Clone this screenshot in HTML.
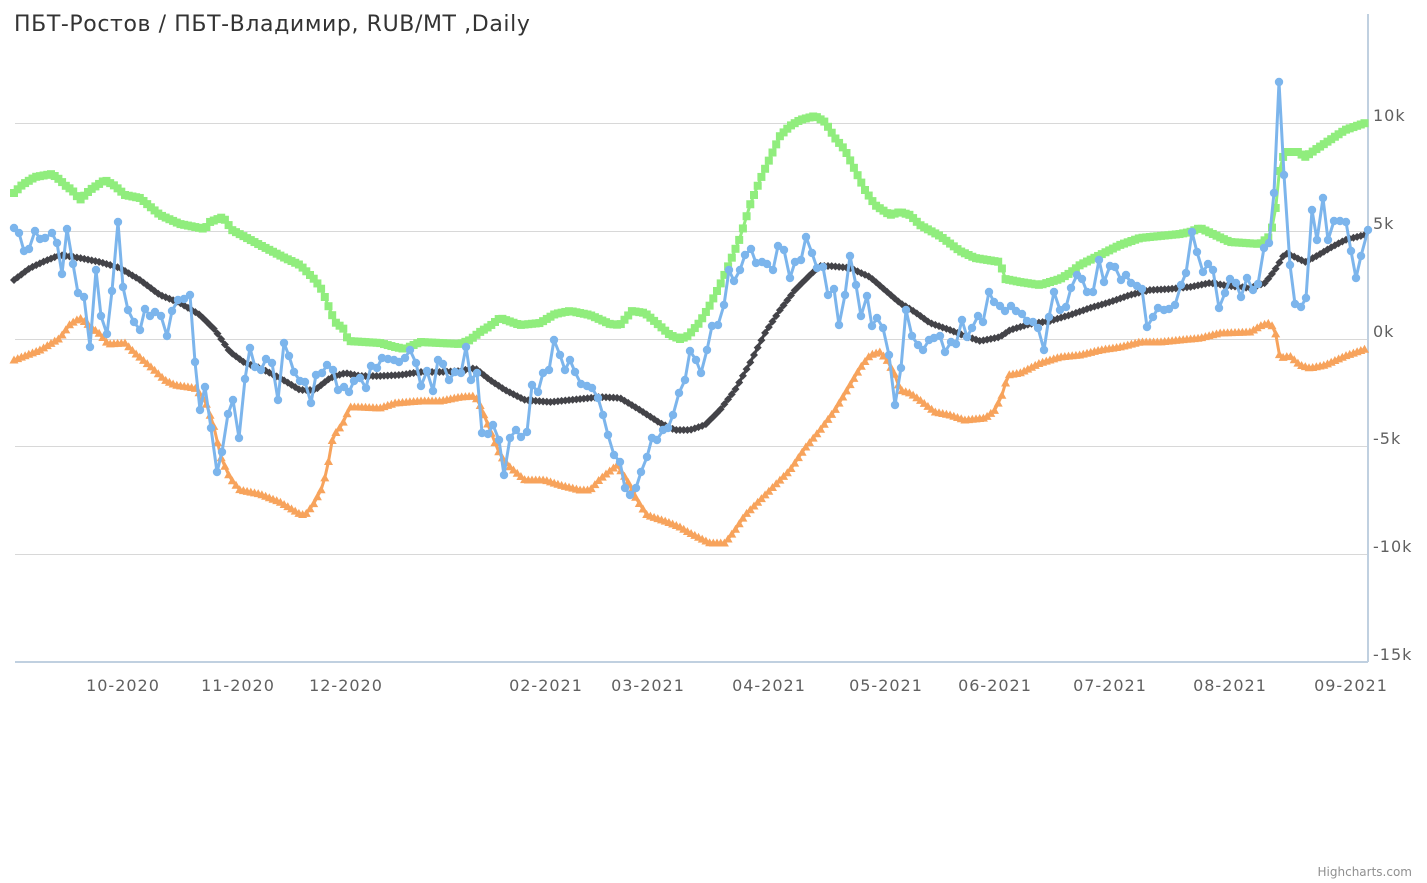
<!DOCTYPE html>
<html><head><meta charset="utf-8"><style>
body{margin:0;background:#fff;}
svg{display:block;font-family:"DejaVu Sans","Liberation Sans",sans-serif;}
</style></head><body>
<svg id="s" width="1427" height="883" xmlns="http://www.w3.org/2000/svg">
<text x="14" y="31" font-size="22" letter-spacing="0.6" fill="#333">ПБТ-Ростов / ПБТ-Владимир, RUB/MT ,Daily</text>
<g stroke="#d8d8d8" stroke-width="1">
<line x1="15" x2="1368" y1="123.5" y2="123.5"/><line x1="15" x2="1368" y1="231.5" y2="231.5"/>
<line x1="15" x2="1368" y1="339.5" y2="339.5"/><line x1="15" x2="1368" y1="446.5" y2="446.5"/>
<line x1="15" x2="1368" y1="554.5" y2="554.5"/>
</g>
<line x1="15" x2="1368" y1="662" y2="662" stroke="#c0d0e0" stroke-width="2"/>
<line x1="1368" x2="1368" y1="14" y2="662" stroke="#c0d0e0" stroke-width="2"/>
<g font-size="16" letter-spacing="1" fill="#606060">
<text x="1373" y="121">10k</text><text x="1373" y="229">5k</text><text x="1373" y="337">0k</text>
<text x="1373" y="444">-5k</text><text x="1373" y="552">-10k</text><text x="1373" y="660">-15k</text>
</g>
<g font-size="16" letter-spacing="1" fill="#606060" text-anchor="middle">
<text x="123" y="691">10-2020</text><text x="238" y="691">11-2020</text><text x="346" y="691">12-2020</text>
<text x="546" y="691">02-2021</text><text x="648" y="691">03-2021</text><text x="769" y="691">04-2021</text>
<text x="886" y="691">05-2021</text><text x="995" y="691">06-2021</text><text x="1110" y="691">07-2021</text>
<text x="1230" y="691">08-2021</text><text x="1351" y="691">09-2021</text>
</g>
<text x="1412" y="876" font-size="12" fill="#909090" text-anchor="end">Highcharts.com</text>
<g id="g"></g>
</svg>
<script>
const NS="http://www.w3.org/2000/svg",G=document.getElementById('g');
function P(a){const r=[];for(let i=0;i<a.length;i+=2)r.push([a[i],a[i+1]]);return r;}
function interp(k,step){const o=[];for(let x=k[0][0];x<=k[k.length-1][0]+0.01;x+=step){let i=0;while(i<k.length-2&&k[i+1][0]<x)i++;const a=k[i],b=k[i+1];const t=(x-a[0])/(b[0]-a[0]);o.push([x,a[1]+(b[1]-a[1])*Math.max(0,Math.min(1,t))]);}return o;}
function el(n,at){const e=document.createElementNS(NS,n);for(const k in at)e.setAttribute(k,at[k]);G.appendChild(e);return e;}
function draw(pts,col,w,mk){el('polyline',{points:pts.map(p=>p.join(',')).join(' '),fill:'none',stroke:col,'stroke-width':w,'stroke-linejoin':'round'});
pts.forEach(([x,y])=>{if(mk=='sq')el('rect',{x:x-4,y:y-4,width:8,height:8,fill:col});
else if(mk=='tri')el('polygon',{points:`${x},${y-4.5} ${x+4.5},${y+3.5} ${x-4.5},${y+3.5}`,fill:col});
else if(mk=='dia')el('polygon',{points:`${x},${y-4} ${x+4},${y} ${x},${y+4} ${x-4},${y}`,fill:col});
else el('circle',{cx:x,cy:y,r:4.2,fill:col});});}
const green=P([14,193,22,185,35,177,52,174,60,180,66,186,72,190,80,200,90,190,105,180,115,186,125,195,140,198,160,215,180,224,205,229,210,222,223,217,232,230,260,245,285,258,300,265,315,280,322,290,328,305,335,322,345,330,348,341,380,343,395,347,405,349,420,342,460,344,470,340,480,332,490,326,500,318,520,325,540,323,555,314,570,311,590,315,610,324,620,325,632,311,645,313,660,326,670,335,680,339,688,336,700,322,710,305,720,285,730,262,740,238,750,205,760,180,770,158,780,136,790,126,800,120,815,116,825,122,835,138,845,150,855,170,865,190,875,205,890,215,900,212,910,215,920,225,940,236,960,251,975,258,1000,262,1005,279,1020,282,1040,285,1060,279,1070,273,1080,265,1100,255,1120,245,1140,238,1160,236,1180,234,1190,232,1200,228,1215,235,1230,242,1260,244,1270,236,1275,215,1280,165,1285,152,1298,152,1305,157,1315,150,1330,140,1345,130,1368,122]);
const orange=P([14,360,40,350,60,338,70,324,80,318,90,326,100,334,108,344,125,343,135,353,150,366,165,380,175,385,195,388,205,400,215,430,220,455,230,478,240,490,260,494,280,502,300,514,305,515,313,505,322,488,327,470,333,436,342,425,350,407,360,407,380,408,395,403,420,401,440,401,460,397,475,396,480,405,490,430,500,455,510,467,525,480,545,480,560,485,580,490,590,490,600,479,617,465,627,480,637,500,647,515,665,521,680,527,690,533,710,543,725,543,735,530,745,515,760,500,775,485,790,470,805,448,820,430,835,410,850,385,860,368,870,355,880,352,887,360,895,375,900,390,910,393,920,400,935,412,950,415,965,420,985,418,995,410,1002,395,1008,375,1020,373,1040,363,1060,357,1080,355,1100,350,1120,347,1140,342,1160,342,1180,340,1200,338,1220,333,1250,332,1262,325,1270,323,1275,330,1280,358,1290,356,1300,365,1310,368,1325,365,1345,356,1368,348]);
const black=P([14,280,30,268,45,261,60,255,80,258,100,262,120,268,140,280,160,295,180,303,200,315,215,330,230,352,245,363,260,368,280,378,300,390,315,390,330,378,345,373,360,376,380,376,400,375,420,372,440,372,460,371,475,368,490,380,505,390,525,400,550,402,580,399,600,397,620,398,640,410,660,423,675,430,690,430,705,425,720,410,735,390,750,363,765,333,780,310,795,290,810,275,820,266,830,266,850,268,870,277,885,290,900,303,915,312,930,323,950,330,965,336,980,341,1000,337,1010,330,1030,324,1050,321,1070,315,1090,308,1110,302,1130,295,1150,290,1170,289,1190,287,1210,283,1230,286,1250,288,1265,283,1275,270,1285,253,1295,257,1305,262,1315,257,1330,248,1345,240,1368,234]);
const blue=P([14,228,19,233,24,251,29,249,35,231,40,239,45,238,52,233,57,243,62,274,67,229,73,264,78,293,84,297,90,347,96,270,101,316,107,334,112,291,118,222,123,287,128,310,134,322,140,330,145,309,150,316,155,312,161,316,167,336,172,311,178,300,184,299,190,295,195,362,200,410,205,387,211,428,217,472,222,452,228,414,233,400,239,438,245,379,250,348,255,367,261,370,266,359,272,363,278,400,284,343,289,356,294,372,300,381,305,382,311,403,316,375,322,373,327,365,333,370,338,390,344,387,349,392,354,381,360,378,366,388,371,366,377,368,382,358,388,359,394,360,399,362,405,358,410,350,416,363,421,386,427,371,433,391,438,360,443,364,449,380,455,372,461,373,466,347,471,380,477,373,482,433,488,434,493,425,499,440,504,475,510,438,516,430,521,437,527,432,532,385,538,392,543,373,549,370,554,340,560,355,565,370,570,360,575,372,581,384,587,386,592,388,598,398,603,415,608,435,614,455,620,462,625,488,630,495,636,488,641,472,647,457,652,438,657,440,663,430,668,428,673,415,679,393,685,380,690,351,696,360,701,373,707,350,712,326,718,325,724,305,729,270,734,281,740,270,745,255,751,249,756,263,762,262,767,264,773,270,778,246,784,250,790,278,795,262,801,260,806,237,812,253,817,268,823,267,828,295,834,289,839,325,845,295,850,256,856,285,861,316,867,296,872,326,877,318,883,328,889,355,895,405,901,368,906,310,912,336,918,345,923,350,929,340,934,338,940,336,945,352,951,342,956,344,962,320,967,337,972,328,978,316,983,322,989,292,994,302,1000,306,1005,311,1011,306,1016,311,1022,314,1027,321,1033,322,1038,328,1044,350,1049,317,1054,292,1060,310,1066,307,1071,288,1077,275,1082,279,1087,292,1093,292,1099,260,1104,282,1110,266,1115,267,1121,280,1126,275,1131,283,1137,286,1142,289,1147,327,1153,317,1158,308,1164,310,1169,309,1175,305,1181,285,1186,273,1192,232,1197,252,1203,272,1208,264,1213,270,1219,308,1225,293,1230,279,1236,283,1241,297,1247,278,1253,290,1258,284,1264,248,1269,243,1274,193,1279,82,1284,175,1290,265,1295,304,1301,307,1306,298,1312,210,1317,240,1323,198,1328,240,1334,221,1340,221,1346,222,1351,251,1356,278,1361,256,1368,230]);
draw(interp(green,3.7),'#90ed7d',3,'sq');
draw(interp(orange,3.7),'#f7a35c',3,'tri');
draw(interp(black,3.7),'#434348',3,'dia');
draw(blue,'#7cb5ec',3,'c');
</script>
</body></html>
